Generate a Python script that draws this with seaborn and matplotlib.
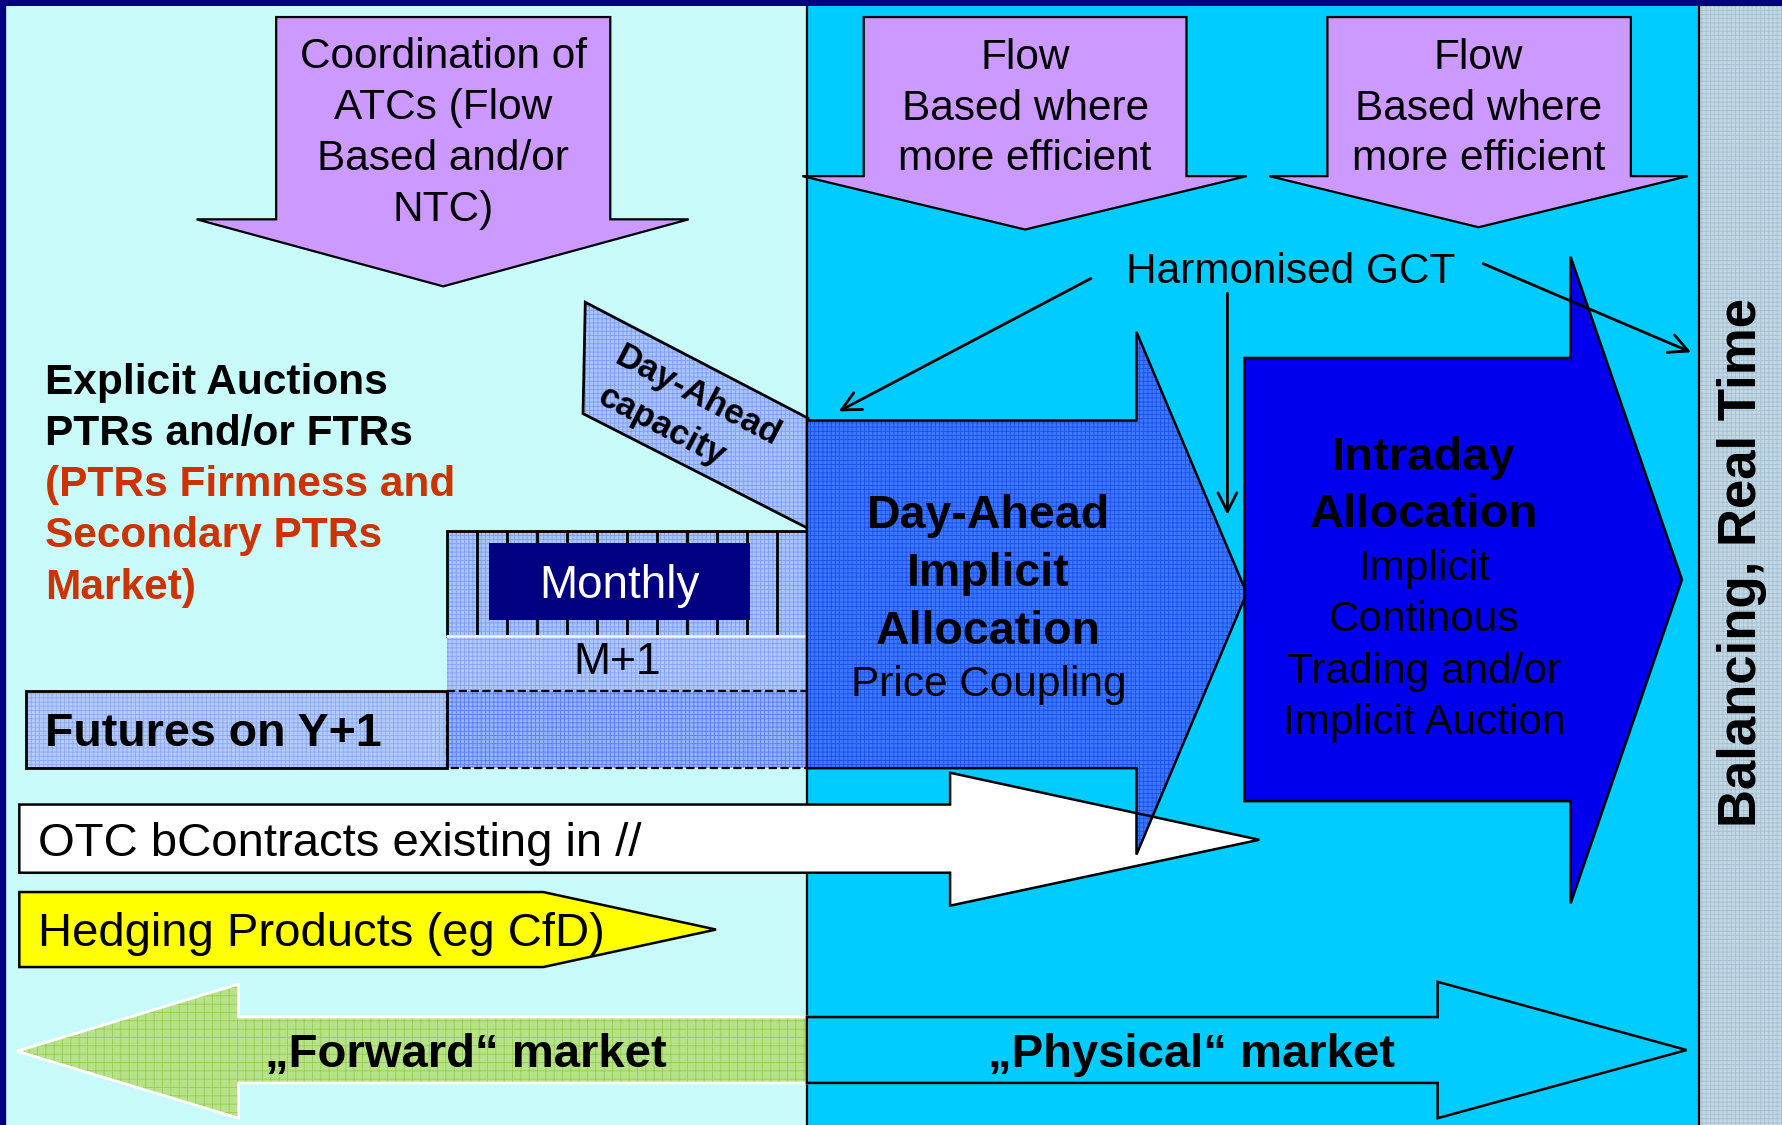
import matplotlib
matplotlib.use("Agg")
import matplotlib.pyplot as plt
import seaborn as sns
from matplotlib.patches import Polygon

# ---------------- content (text) ----------------
top_arrow_labels = [
    ["Coordination of", "ATCs (Flow", "Based and/or", "NTC)"],
    ["Flow", "Based where", "more efficient"],
    ["Flow", "Based where", "more efficient"],
]
gct_label = "Harmonised GCT"
explicit_black = ["Explicit Auctions", "PTRs and/or FTRs"]
explicit_red = ["(PTRs Firmness and", "Secondary PTRs", "Market)"]
da_capacity_labels = ["Day-Ahead", "capacity"]
months = ["Jan", "Feb", "Mar", "Apr", "May", "Jun",
          "Jul", "Aug", "Sep", "Oct", "Nov", "Dec"]
monthly_label = "Monthly"
m1_label = "M+1"
futures_label = "Futures on Y+1"
da_title = ["Day-Ahead", "Implicit", "Allocation"]
da_sub = ["Price Coupling"]
intraday_title = ["Intraday", "Allocation"]
intraday_sub = ["Implicit", "Continous", "Trading and/or", "Implicit Auction"]
otc_label = "OTC bContracts existing in //"
hedging_label = "Hedging Products (eg CfD)"
forward_label = "\u201eForward\u201c market"
physical_label = "\u201ePhysical\u201c market"
balancing_label = "Balancing, Real Time"

# ---------------- style ----------------
sns.set_theme(style="white")
plt.rcParams['font.family'] = ['Liberation Sans', 'DejaVu Sans']
plt.rcParams['text.color'] = 'black'
plt.rcParams['hatch.linewidth'] = 0.6

W, H = 1568, 990
DY = 3  # vertical text nudge
fig = plt.figure(figsize=(17.82, 11.25), dpi=100)
ax = fig.add_axes([0, 0, 1, 1])
ax.set_xlim(0, W)
ax.set_ylim(H, 0)
ax.axis('off')
sns.despine(ax=ax, left=True, bottom=True)

LEFT_BG = '#C8FAFA'
RIGHT_BG = '#00CCFF'
PURPLE = '#CC99FF'


def poly(pts, fc, ec='black', lw=1.6, hatch=None, hc=None, z=2, ls='-', alpha=1.0, fill_only=False, outline_only=False):
    if not outline_only:
        ax.add_patch(Polygon(pts, closed=True, facecolor=fc,
                             edgecolor=(hc if hatch else fc), lw=0,
                             hatch=hatch, zorder=z, alpha=alpha))
    if ec is not None and not fill_only:
        ax.add_patch(Polygon(pts, closed=True, fill=False, edgecolor=ec,
                             lw=lw, ls=ls, zorder=z + 0.1))


def rect(x0, y0, x1, y1, **kw):
    poly([(x0, y0), (x1, y0), (x1, y1), (x0, y1)], **kw)


def txt(x, y, s, **kw):
    kw.setdefault('color', 'black')
    kw.setdefault('va', 'center')
    ax.text(x, y + DY, s, **kw)


def lines_text(x, ys, lines, **kw):
    for yy, ln in zip(ys, lines):
        txt(x, yy, ln, **kw)


def down_arrow(bx0, bx1, ytop, yneck, wx0, wx1, tipx, tipy):
    return [(bx0, ytop), (bx1, ytop), (bx1, yneck), (wx1, yneck),
            (tipx, tipy), (wx0, yneck), (bx0, yneck)]


def right_arrow(x0, xn, yt, yb, ht, hb, tipx, tipy):
    return [(x0, yt), (xn, yt), (xn, ht), (tipx, tipy), (xn, hb),
            (xn, yb), (x0, yb)]


# ---------------- backgrounds ----------------
rect(0, 0, 710, H, fc=LEFT_BG, ec=None, z=0)
rect(710, 0, 1495, H, fc=RIGHT_BG, ec=None, z=0)
rect(1495, 0, W, H, fc='#C2D9E4', ec=None, hatch='++++', hc='#A6BFD4', z=0)
ax.plot([710, 710], [0, H], color='black', lw=1.6, zorder=1)
ax.plot([1495, 1495], [0, H], color='black', lw=1.6, zorder=1)
ax.plot([0, W], [1.5, 1.5], color='#000080', lw=5, zorder=10)
ax.plot([2, 2], [0, H], color='#000080', lw=6, zorder=10)

# ---------------- top purple arrows ----------------
top_geom = [
    down_arrow(243, 537, 15, 193, 173, 606, 390, 252),
    down_arrow(760, 1044, 15, 155, 706, 1097, 902, 202),
    down_arrow(1168, 1435, 15, 155, 1117, 1485, 1301, 200),
]
top_text_pos = [(390, [47, 92, 137, 182]), (902, [48, 93, 137]), (1301, [48, 93, 137])]
for g, (tx, tys), lab in zip(top_geom, top_text_pos, top_arrow_labels):
    poly(g, fc=PURPLE, lw=1.6, z=2)
    lines_text(tx, tys, lab, ha='center', fontsize=30.5, zorder=5)

# ---------------- Harmonised GCT ----------------
txt(1136, 236, gct_label, ha='center', fontsize=30.5, zorder=12)
arw = dict(arrowstyle='->', lw=2.0, color='black', mutation_scale=34, shrinkA=0, shrinkB=0)
ax.annotate('', xy=(738, 362), xytext=(960, 245), arrowprops=arw, zorder=12)
ax.annotate('', xy=(1080, 453), xytext=(1080, 258), arrowprops=arw, zorder=12)
ax.annotate('', xy=(1488, 310), xytext=(1305, 232), arrowprops=arw, zorder=12)

# ---------------- left explicit text ----------------
lines_text(40, [334, 379], explicit_black, ha='left', fontsize=30.5,
           fontweight='bold', zorder=5)
lines_text(40, [424, 469, 514], explicit_red, ha='left', fontsize=30.5,
           fontweight='bold', color='#CC3300', zorder=5)

# ---------------- Day-ahead capacity ----------------
poly([(515, 266), (711, 368), (711, 465), (513, 364)], fc='#A9C4FF',
     hatch='++++', hc='#7F9DF5', lw=2.0, z=3)
ax.text(614, 349, da_capacity_labels[0], ha='center', va='center', rotation=-27.5,
        rotation_mode='anchor', fontsize=25, fontweight='bold', color='black', zorder=6)
ax.text(582, 375, da_capacity_labels[1], ha='center', va='center', rotation=-27.5,
        rotation_mode='anchor', fontsize=25, fontweight='bold', color='black', zorder=6)

# ---------------- Monthly / M+1 / futures ----------------
mx0, mx1 = 393, 710
rect(mx0, 467, mx1, 560, fc='#A9C4FF', hatch='++++', hc='#7F9DF5', ec='black', lw=2.0, z=3)
step = (mx1 - mx0) / len(months)
for i in range(1, len(months)):
    xx = mx0 + i * step
    ax.plot([xx, xx], [467, 560], color='black', lw=2.0, zorder=4)
rect(430, 478, 660, 546, fc='#000080', ec=None, z=5)
txt(545, 513, monthly_label, ha='center', color='white', fontsize=33, zorder=6)

rect(mx0, 560, mx1, 608, fc='#AFC8FF', hatch='++++', hc='#86A2F5', ec=None, z=3)
ax.plot([mx0, mx1], [560, 560], color='white', lw=2, zorder=4)
txt(543, 580, m1_label, ha='center', fontsize=32, zorder=6)

rect(mx0, 608, 712, 676, fc='#93B2FF', hatch='++++', hc='#5A7DF0', ec='black', lw=1.6, ls='--', z=3)
rect(23, 608, mx0, 676, fc='#B3CBFA', hatch='++++', hc='#8EA8F2', ec='black', lw=2.0, z=3)
txt(40, 643, futures_label, ha='left', fontsize=33.5, fontweight='bold', zorder=6)

# ---------------- OTC arrow (fill) ----------------
otc = right_arrow(17, 836, 708, 768, 680, 797, 1108, 739)
poly(otc, fc='white', ec=None, z=3, fill_only=True)

# ---------------- Day-Ahead implicit arrow ----------------
da = right_arrow(710, 1000, 370, 676, 292, 752, 1097, 522)
poly(da, fc='#3A78FF', hatch='++++', hc='#1E4FE6', lw=1.8, z=4)
lines_text(870, [451, 502, 553], da_title, ha='center', fontsize=33.5, fontweight='bold', zorder=7)
lines_text(870, [600], da_sub, ha='center', fontsize=30.5, zorder=7)

# OTC outline on top + text
poly(otc, fc='white', ec='black', lw=1.8, z=5, outline_only=True)
txt(33, 740, otc_label, ha='left', fontsize=34, zorder=7)

# ---------------- Intraday arrow ----------------
intr = right_arrow(1095, 1382, 315, 705, 226, 795, 1480, 510)
poly(intr, fc='#0000EE', lw=1.8, z=6)
lines_text(1253, [400, 450], intraday_title, ha='center', fontsize=34, fontweight='bold', zorder=8)
lines_text(1253, [498, 543, 588, 633], intraday_sub, ha='center', fontsize=30.5, zorder=8)

# ---------------- Hedging arrow ----------------
hedge = [(17, 785), (478, 785), (630, 818), (478, 851), (17, 851)]
poly(hedge, fc='#FFFF00', lw=1.8, z=3)
txt(33, 819, hedging_label, ha='left', fontsize=34, zorder=7)

# ---------------- Forward / Physical ----------------
fwd = [(15, 925), (210, 866), (210, 895), (710, 895), (710, 953), (210, 953), (210, 984)]
poly(fwd, fc='#B6E389', hatch='++', hc='#9ACB4A', ec='white', lw=2.0, z=3)
txt(410, 925, forward_label, ha='center', fontsize=34, fontweight='bold', zorder=7)

phys = right_arrow(710, 1265, 895, 953, 864, 984, 1484, 924)
poly(phys, fc=RIGHT_BG, lw=1.8, z=3)
txt(1048, 925, physical_label, ha='center', fontsize=34, fontweight='bold', zorder=7)

# ---------------- Balancing strip text ----------------
ax.text(1533, 495, balancing_label, ha='center', va='center', rotation=90,
        fontsize=38, fontweight='bold', color='black', zorder=7)

fig.savefig('out.png', dpi=100)
